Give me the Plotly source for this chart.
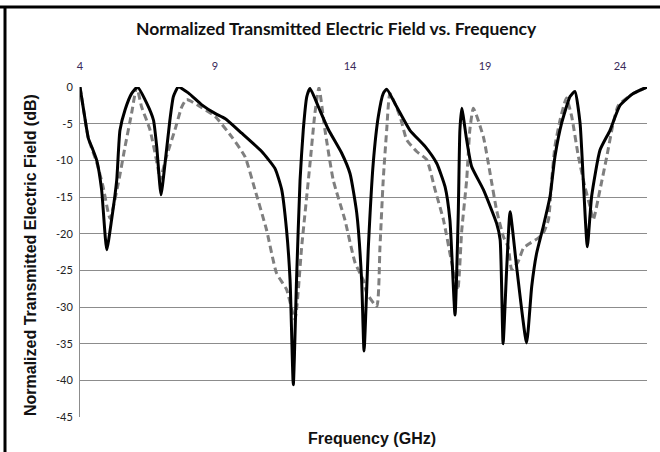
import plotly.graph_objects as go

# Solid (black) series
solid_f = [4.0, 4.15, 4.31, 4.45, 4.62, 4.80, 4.99, 5.17, 5.36, 5.48, 5.67, 5.91, 6.13,
           6.47, 6.72, 6.84, 7.0, 7.15, 7.33, 7.46, 7.64, 8.01, 8.5, 9.0, 9.37, 9.99,
           10.73, 11.22, 11.47, 11.65, 11.78, 11.9, 12.02, 12.15, 12.27, 12.4, 12.52,
           12.83, 13.2, 13.69, 14.0, 14.25, 14.43, 14.52, 14.68, 14.86, 15.05, 15.23,
           15.36, 15.73, 16.22, 16.78, 17.21, 17.52, 17.7, 17.89, 18.01, 18.07, 18.14,
           18.32, 18.5, 18.94, 19.43, 19.56, 19.67, 19.80, 19.93, 20.17, 20.54, 20.73,
           20.91, 21.16, 21.41, 21.59, 21.84, 22.15, 22.33, 22.52, 22.64, 22.79, 22.95,
           23.26, 23.63, 24.0, 24.49, 25.0]
solid_db = [0.0, -3.5, -7.0, -8.3, -10.0, -14.0, -22.2, -18.1, -12.7, -5.9, -3.1, -0.9, 0.0,
            -2.2, -4.5, -8.1, -14.7, -10.4, -4.5, -1.3, 0.0, -0.8, -2.4, -3.6, -4.3, -6.3,
            -8.8, -11.1, -14.0, -19.5, -26.3, -40.6, -26.3, -12.7, -5.8, -1.3, -0.2,
            -2.7, -5.8, -9.0, -11.8, -17.2, -26.3, -36.0, -21.8, -10.4, -4.0, -0.9,
            -0.3, -2.7, -5.9, -8.1, -10.4, -13.6, -18.1, -31.1, -17.2, -5.9, -2.9,
            -7.2, -10.8, -14.0, -18.6, -20.8, -35.0, -25.0, -17.0, -24.5, -34.9, -27.2,
            -22.7, -19.0, -14.9, -9.5, -4.9, -1.3, -0.6, -4.9, -12.7, -21.8, -14.9,
            -8.6, -5.9, -2.5, -0.9, 0.0]

# Dashed (gray) series
dashed_f = [4.0, 4.15, 4.31, 4.62, 4.85, 5.11, 5.42, 5.67, 5.91, 6.1, 6.28, 6.59, 6.9,
            6.96, 7.2, 7.52, 7.77, 7.95, 8.5, 9.0, 9.62, 10.11, 10.48, 10.91, 11.28,
            11.65, 11.96, 12.21, 12.52, 12.7, 12.85, 13.07, 13.38, 13.81, 14.19, 14.49,
            14.62, 14.99, 15.11, 15.23, 15.36, 15.48, 15.85, 16.1, 16.47, 16.84, 17.15,
            17.46, 17.77, 17.99, 18.14, 18.32, 18.44, 18.57, 18.94, 19.19, 19.43, 19.68,
            19.86, 19.99, 20.23, 20.42, 20.67, 20.97, 21.16, 21.35, 21.47, 21.59, 21.78,
            21.96, 22.02, 22.21, 22.46, 22.7, 22.89, 23.01, 23.26, 23.51, 23.75, 23.94,
            24.49, 25.0]
dashed_db = [0.0, -3.5, -7.0, -10.3, -13.5, -17.9, -13.1, -8.1, -3.6, 0.0, -2.7, -5.8, -11.3,
             -12.7, -9.5, -5.8, -2.7, -1.7, -2.8, -4.0, -6.8, -9.5, -14.0, -19.5, -25.4,
             -27.6, -31.7, -21.8, -10.4, -3.6, -0.1, -5.8, -12.7, -18.1, -24.0, -26.3,
             -28.1, -29.9, -21.8, -12.7, -5.8, -0.9, -4.0, -7.2, -8.8, -9.9, -14.0,
             -18.1, -24.0, -27.7, -19.5, -12.7, -5.8, -2.9, -6.8, -11.8, -16.8, -20.4,
             -21.8, -24.9, -23.8, -22.0, -21.3, -20.6, -19.9, -18.1, -12.7, -8.1, -4.5,
             -2.0, -1.5, -4.0, -9.5, -13.6, -16.3, -18.1, -14.0, -9.5, -4.9, -2.5,
             -0.9, 0.0]

x_ticks = [4, 9, 14, 19, 24]
y_ticks = [0, -5, -10, -15, -20, -25, -30, -35, -40, -45]

W, H = 660, 452
L, R, T, B = 80, 13, 87, 35
PW, PH = W - L - R, H - T - B


def px(x):
    return (x - L) / PW


def py(y):
    return (H - B - y) / PH


fig = go.Figure()
fig.add_trace(go.Scatter(x=dashed_f, y=dashed_db, mode="lines",
                         line=dict(color="#7f7f7f", width=3, dash="7px,4px", shape="spline", smoothing=0.5),
                         showlegend=False))
fig.add_trace(go.Scatter(x=solid_f, y=solid_db, mode="lines",
                         line=dict(color="#000000", width=3, shape="spline", smoothing=0.5),
                         showlegend=False))

fig.update_layout(
    width=W, height=H,
    margin=dict(l=L, r=R, t=T, b=B),
    paper_bgcolor="white", plot_bgcolor="white",
    font=dict(family="Lato", color="#222"),
    showlegend=False,
    xaxis=dict(range=[4, 25], side="top", tickvals=x_ticks, ticktext=[str(v) for v in x_ticks],
               showgrid=False, zeroline=False, showline=False,
               tickfont=dict(size=11, family="Lato", color="#3a2a5a"),
               ticks="outside", ticklen=12, tickcolor="rgba(0,0,0,0)"),
    yaxis=dict(range=[-45, 0], tickvals=y_ticks, ticktext=[str(v) for v in y_ticks],
               showgrid=True, gridcolor="#8c8c8c", gridwidth=1, zeroline=False,
               showline=True, linecolor="#8c8c8c", linewidth=1,
               tickfont=dict(size=11, family="Lato", color="#222"),
               ticks="outside", ticklen=4, tickcolor="rgba(0,0,0,0)"),
    annotations=[
        dict(text="<b>Normalized Transmitted Electric Field vs. Frequency</b>",
             x=px(336.5), y=py(29), xref="paper", yref="paper", showarrow=False,
             xanchor="center", yanchor="middle",
             font=dict(size=17.5, family="Lato", color="#111")),
        dict(text="<b>Frequency (GHz)</b>", x=px(372), y=py(438), xref="paper", yref="paper",
             showarrow=False, xanchor="center", yanchor="middle",
             font=dict(size=16, family="Liberation Sans", color="#111")),
        dict(text="<b>Normalized Transmitted Electric Field (dB)</b>", x=px(31), y=py(255),
             xref="paper", yref="paper", showarrow=False, textangle=-90,
             xanchor="center", yanchor="middle",
             font=dict(size=16, family="Liberation Sans", color="#111")),
    ],
    shapes=[
        dict(type="line", xref="paper", yref="paper", x0=px(0), x1=px(W), y0=py(7), y1=py(7),
             line=dict(color="black", width=3)),
        dict(type="line", xref="paper", yref="paper", x0=px(5), x1=px(5), y0=py(H), y1=py(6),
             line=dict(color="black", width=3)),
    ],
)

fig.write_html("out.html", config={"displayModeBar": False},
               post_script="document.body.style.margin='0';document.body.style.overflow='hidden';")
